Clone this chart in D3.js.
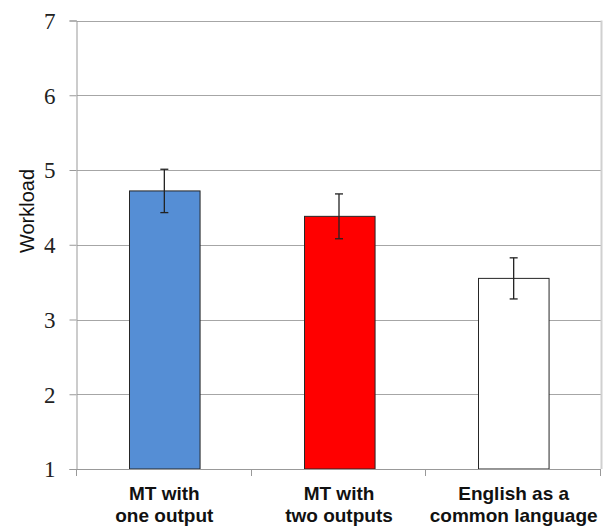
<!DOCTYPE html>
<html>
<head>
<meta charset="utf-8">
<script src="https://cdn.jsdelivr.net/npm/d3@7"></script>
<style>
  body { margin: 0; background: #fff; }
</style>
</head>
<body>
<svg></svg>
<script>
var categories = [["MT with", "one output"], ["MT with", "two outputs"], ["English as a", "common language"]];
var means = [4.72, 4.38, 3.55];
var errors = [0.29, 0.30, 0.275];
var barColors = ["#558ed5", "#ff0000", "#ffffff"];
var yTicks = [1, 2, 3, 4, 5, 6, 7];

var width = 606;
var height = 527;
var plotLeft = 77, plotRight = 601, plotTop = 20.5, plotBottom = 469;

var svg = d3.select("svg")
            .attr("width", width)
            .attr("height", height);

var xScale = d3.scaleBand()
               .domain(d3.range(categories.length))
               .range([plotLeft, plotRight])
               .paddingInner(0.596)
               .paddingOuter(0.298);

var yScale = d3.scaleLinear()
               .domain([1, 7])
               .range([plotBottom, plotTop]);

// gridlines
svg.selectAll("line.grid")
   .data(yTicks.slice(1))
   .enter()
   .append("line")
   .attr("class", "grid")
   .attr("x1", plotLeft)
   .attr("x2", plotRight)
   .attr("y1", function(d){ return Math.round(yScale(d)) + 0.5; })
   .attr("y2", function(d){ return Math.round(yScale(d)) + 0.5; })
   .attr("stroke", "#a6a6a6")
   .attr("stroke-width", 1);

// right edge
svg.append("line")
   .attr("x1", plotRight + 0.5).attr("x2", plotRight + 0.5)
   .attr("y1", plotTop).attr("y2", plotBottom)
   .attr("stroke", "#d0d0d0")
   .attr("stroke-width", 2);

// y axis
var yAxis = d3.axisLeft(yScale)
              .tickValues(yTicks)
              .tickSize(7)
              .tickPadding(14)
              .tickFormat(d3.format("d"));

var yG = svg.append("g")
            .attr("transform", "translate(" + (plotLeft - 0.5) + ",0)")
            .call(yAxis);
yG.attr("font-family", "'Liberation Serif', 'Times New Roman', serif");
yG.select(".domain").attr("stroke", "#999");
yG.selectAll(".tick line").attr("stroke", "#999");
yG.selectAll(".tick text")
  .attr("font-family", "'Liberation Serif', 'Times New Roman', serif")
  .attr("font-size", 23)
  .attr("fill", "#222")
  .attr("dy", "0.34em");

// bars
svg.selectAll("rect.bar")
   .data(means)
   .enter()
   .append("rect")
   .attr("class", "bar")
   .attr("x", function(d, i){ return Math.round(xScale(i)) + 0.5; })
   .attr("y", function(d){ return yScale(d); })
   .attr("width", xScale.bandwidth())
   .attr("height", function(d){ return yScale(1) - yScale(d); })
   .attr("fill", function(d, i){ return barColors[i]; })
   .attr("stroke", "#262626")
   .attr("stroke-width", 1);

// x axis baseline and category ticks
var xG = svg.append("g");
xG.append("line")
  .attr("x1", plotLeft).attr("x2", plotRight)
  .attr("y1", plotBottom + 0.5).attr("y2", plotBottom + 0.5)
  .attr("stroke", "#999");
var bounds = d3.range(categories.length + 1).map(function(i){
  return plotLeft + i * xScale.step();
});
xG.selectAll("line.xtick")
  .data(bounds)
  .enter()
  .append("line")
  .attr("class", "xtick")
  .attr("x1", function(d){ return Math.round(d) - 0.5; })
  .attr("x2", function(d){ return Math.round(d) - 0.5; })
  .attr("y1", plotBottom)
  .attr("y2", plotBottom + 7)
  .attr("stroke", "#999");

// error bars
var eb = svg.selectAll("g.err")
            .data(means)
            .enter()
            .append("g")
            .attr("class", "err");
eb.append("line")
  .attr("x1", function(d, i){ return xScale(i) + xScale.bandwidth() / 2; })
  .attr("x2", function(d, i){ return xScale(i) + xScale.bandwidth() / 2; })
  .attr("y1", function(d, i){ return yScale(d - errors[i]); })
  .attr("y2", function(d, i){ return yScale(d + errors[i]); })
  .attr("stroke", "#222")
  .attr("stroke-width", 1.3);
eb.selectAll("line.cap")
  .data(function(d, i){ return [[i, d - errors[i]], [i, d + errors[i]]]; })
  .enter()
  .append("line")
  .attr("class", "cap")
  .attr("x1", function(d){ return xScale(d[0]) + xScale.bandwidth() / 2 - 4; })
  .attr("x2", function(d){ return xScale(d[0]) + xScale.bandwidth() / 2 + 4; })
  .attr("y1", function(d){ return yScale(d[1]); })
  .attr("y2", function(d){ return yScale(d[1]); })
  .attr("stroke", "#222")
  .attr("stroke-width", 1.3);

// category labels
var labels = svg.selectAll("text.cat")
                .data(categories)
                .enter()
                .append("text")
                .attr("class", "cat")
                .attr("text-anchor", "middle")
                .attr("font-family", "'Liberation Sans', Arial, sans-serif")
                .attr("font-weight", "bold")
                .attr("font-size", 19)
                .attr("fill", "#111");
labels.selectAll("tspan")
      .data(function(d, i){ return d.map(function(t, j){ return [t, i, j]; }); })
      .enter()
      .append("tspan")
      .attr("x", function(d){ return xScale(d[1]) + xScale.bandwidth() / 2; })
      .attr("y", function(d){ return 500 + d[2] * 21.5; })
      .text(function(d){ return d[0]; });

// y title
svg.append("text")
   .attr("transform", "translate(34,211) rotate(-90)")
   .attr("text-anchor", "middle")
   .attr("font-family", "'Liberation Sans', Arial, sans-serif")
   .attr("font-size", 20)
   .attr("fill", "#111")
   .text("Workload");
</script>
</body>
</html>
